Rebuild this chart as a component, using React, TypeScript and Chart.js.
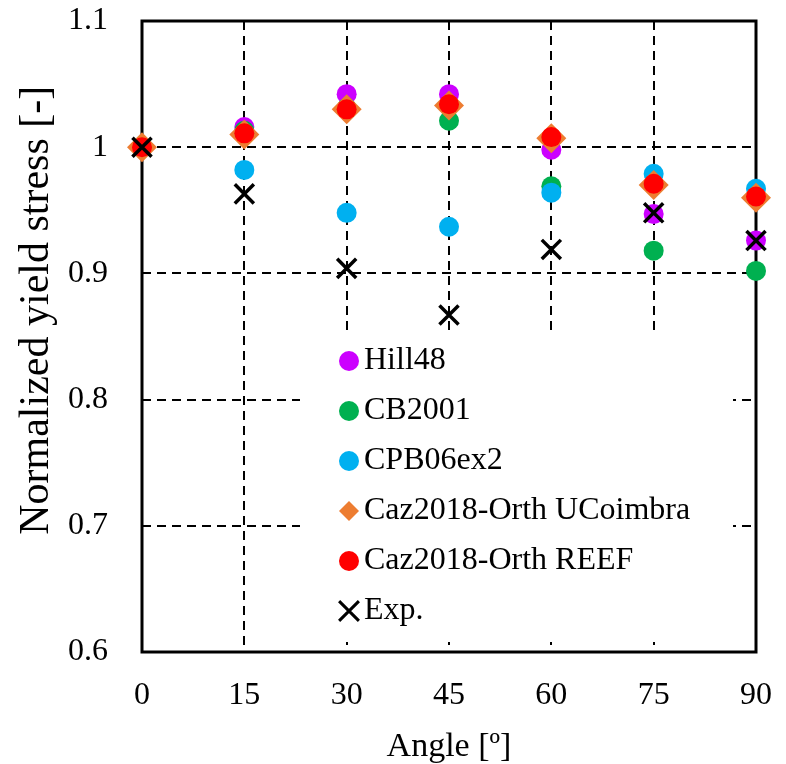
import React, { useEffect, useRef } from 'react';
import { Chart, registerables } from 'chart.js';
import { drawPoint } from 'chart.js/helpers';

Chart.register(...registerables);

// ---- data ----
const angles = [0, 15, 30, 45, 60, 75, 90];
const hill48 = [1.0, 1.016, 1.042, 1.042, 0.998, 0.947, 0.926];
const cb2001 = [1.0, 1.013, 1.031, 1.021, 0.969, 0.918, 0.902];
const cpb06ex2 = [1.0, 0.982, 0.948, 0.937, 0.964, 0.979, 0.967];
const cazUCoimbra = [1.0, 1.010, 1.030, 1.033, 1.007, 0.970, 0.960];
const cazREEF = [1.0, 1.011, 1.030, 1.034, 1.008, 0.971, 0.961];
const expData = [1.0, 0.963, 0.904, 0.867, 0.919, 0.948, 0.926];

const seriesNames = ['Hill48', 'CB2001', 'CPB06ex2', 'Caz2018-Orth UCoimbra', 'Caz2018-Orth REEF', 'Exp.'];
const xTitle = 'Angle [º]';
const yTitle = 'Normalized yield stress [-]';

const FONT = "'Times New Roman', 'Liberation Serif', serif";

const toPts = (vals: number[]) => vals.map((v, i) => ({ x: angles[i], y: v }));

const frameAndLegendPlugin = {
  id: 'frameAndLegend',
  beforeDatasetsDraw(chart: any) {
    const { ctx, chartArea: a } = chart;
    ctx.save();
    // legend background (hides grid lines)
    ctx.fillStyle = '#ffffff';
    ctx.fillRect(a.left + 158, a.top + 312, 433, 309);
    // frame
    ctx.strokeStyle = '#000';
    ctx.lineWidth = 3;
    ctx.setLineDash([]);
    ctx.strokeRect(a.left, a.top, a.right - a.left, a.bottom - a.top);
    ctx.restore();
  },
  afterDatasetsDraw(chart: any) {
    const { ctx, chartArea: a } = chart;
    const left = a.left + 158;
    const top = a.top + 312;
    ctx.save();
    chart.data.datasets.forEach((ds: any, i: number) => {
      const mx = left + 49;
      const my = top + 28 + i * 50;
      const isCross = ds.pointStyle === 'crossRot';
      ctx.fillStyle = ds.backgroundColor;
      ctx.strokeStyle = ds.borderColor;
      ctx.lineWidth = isCross ? 3 : 0;
      ctx.setLineDash([]);
      drawPoint(ctx, {
        pointStyle: ds.pointStyle,
        radius: isCross ? 14 : 10,
        rotation: 0,
        borderWidth: isCross ? 3 : 0,
      } as any, mx, my);
      ctx.fillStyle = '#000';
      ctx.font = `32px ${FONT}`;
      ctx.textAlign = 'left';
      ctx.textBaseline = 'middle';
      ctx.fillText(ds.label, left + 64, my);
    });
    ctx.restore();
  },
};

export default function App() {
  const ref = useRef<HTMLCanvasElement>(null);
  useEffect(() => {
    document.body.style.margin = '0';
    Chart.defaults.color = '#000';
    const chart = new Chart(ref.current as HTMLCanvasElement, {
      type: 'scatter',
      data: {
        datasets: [
          { label: seriesNames[0], data: toPts(hill48), backgroundColor: '#CC00FF', borderColor: '#CC00FF', pointStyle: 'circle', pointRadius: 10, pointHoverRadius: 10, pointBorderWidth: 0, order: 6, clip: false },
          { label: seriesNames[1], data: toPts(cb2001), backgroundColor: '#00B050', borderColor: '#00B050', pointStyle: 'circle', pointRadius: 10, pointHoverRadius: 10, pointBorderWidth: 0, order: 5, clip: false },
          { label: seriesNames[2], data: toPts(cpb06ex2), backgroundColor: '#00B0F0', borderColor: '#00B0F0', pointStyle: 'circle', pointRadius: 10, pointHoverRadius: 10, pointBorderWidth: 0, order: 4, clip: false },
          { label: seriesNames[3], data: toPts(cazUCoimbra), backgroundColor: '#ED7D31', borderColor: '#ED7D31', pointStyle: 'rectRot', pointRadius: 15, pointHoverRadius: 15, pointBorderWidth: 0, order: 3, clip: false },
          { label: seriesNames[4], data: toPts(cazREEF), backgroundColor: '#FF0000', borderColor: '#FF0000', pointStyle: 'circle', pointRadius: 10, pointHoverRadius: 10, pointBorderWidth: 0, order: 2, clip: false },
          { label: seriesNames[5], data: toPts(expData), backgroundColor: '#000000', borderColor: '#000000', pointStyle: 'crossRot', pointRadius: 13.5, pointHoverRadius: 13.5, pointBorderWidth: 3.5, order: 1, clip: false },
        ] as any,
      },
      options: {
        animation: false,
        responsive: false,
        devicePixelRatio: 1,
        layout: { padding: { top: 21, right: 30, left: 0, bottom: 0 } },
        plugins: { legend: { display: false }, tooltip: { enabled: false } },
        scales: {
          x: {
            type: 'linear',
            position: 'bottom',
            min: 0,
            max: 90,
            ticks: { stepSize: 15, padding: 0, maxRotation: 0, color: '#000', font: { family: FONT, size: 32 } },
            grid: { color: '#000', lineWidth: 2, drawTicks: true, tickLength: 24, tickColor: 'rgba(0,0,0,0)' },
            border: { display: false, dash: [9, 6] },
            title: { display: true, text: xTitle, color: '#000', font: { family: FONT, size: 34, lineHeight: 1.0 }, padding: { top: 0, bottom: 0 } },
            afterFit: (s: any) => { s.height = 112; },
          },
          y: {
            type: 'linear',
            min: 0.6,
            max: 1.1,
            ticks: {
              stepSize: 0.1,
              padding: 0,
              color: '#000',
              font: { family: FONT, size: 32 },
              callback: (v: any) => String(Number(Number(v).toFixed(1))),
            },
            grid: { color: '#000', lineWidth: 2, drawTicks: true, tickLength: 34, tickColor: 'rgba(0,0,0,0)' },
            border: { display: false, dash: [9, 6] },
            title: { display: true, text: '     ' + yTitle, color: '#000', font: { family: FONT, size: 42, lineHeight: 1.0 }, padding: { top: 16, bottom: 0 } },
            afterFit: (s: any) => { s.width = 142; },
          },
        },
      } as any,
      plugins: [frameAndLegendPlugin],
    });
    return () => chart.destroy();
  }, []);
  return <canvas ref={ref} width={786} height={764} style={{ display: 'block', width: 786, height: 764 }} />;
}
